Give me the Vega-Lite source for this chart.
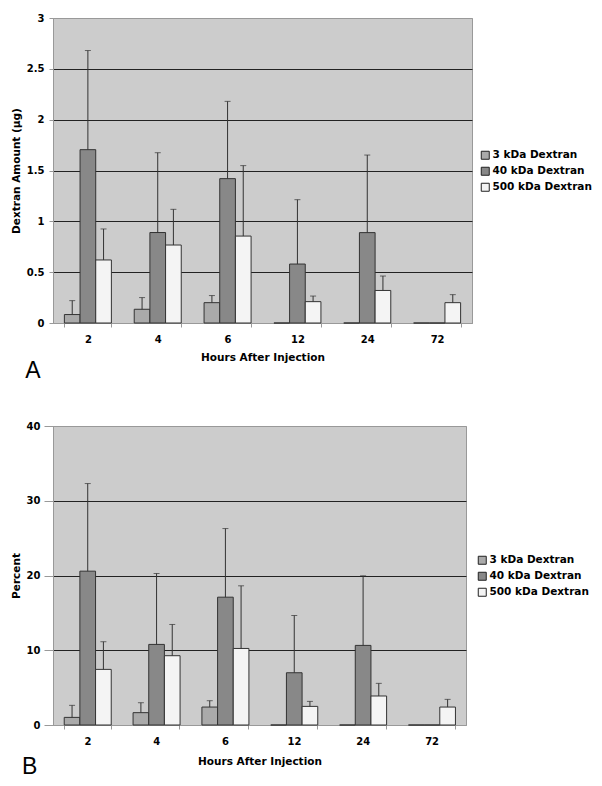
{
  "$schema": "https://vega.github.io/schema/vega-lite/v6.json",
  "background": "white",
  "padding": {"left": 10, "top": 12, "right": 0, "bottom": 0},
  "spacing": 37,
  "resolve": {"legend": {"fill": "independent"}},
  "datasets": {
    "amount": [
      {"hours": "2", "series": "3 kDa Dextran", "value": 0.083, "upper": 0.22},
      {"hours": "2", "series": "40 kDa Dextran", "value": 1.705, "upper": 2.68},
      {"hours": "2", "series": "500 kDa Dextran", "value": 0.62, "upper": 0.925},
      {"hours": "4", "series": "3 kDa Dextran", "value": 0.135, "upper": 0.25},
      {"hours": "4", "series": "40 kDa Dextran", "value": 0.89, "upper": 1.675},
      {"hours": "4", "series": "500 kDa Dextran", "value": 0.767, "upper": 1.118},
      {"hours": "6", "series": "3 kDa Dextran", "value": 0.2, "upper": 0.27},
      {"hours": "6", "series": "40 kDa Dextran", "value": 1.42, "upper": 2.18},
      {"hours": "6", "series": "500 kDa Dextran", "value": 0.855, "upper": 1.548},
      {"hours": "12", "series": "3 kDa Dextran", "value": 0, "upper": null},
      {"hours": "12", "series": "40 kDa Dextran", "value": 0.58, "upper": 1.213},
      {"hours": "12", "series": "500 kDa Dextran", "value": 0.21, "upper": 0.265},
      {"hours": "24", "series": "3 kDa Dextran", "value": 0, "upper": null},
      {"hours": "24", "series": "40 kDa Dextran", "value": 0.889, "upper": 1.652},
      {"hours": "24", "series": "500 kDa Dextran", "value": 0.32, "upper": 0.462},
      {"hours": "72", "series": "3 kDa Dextran", "value": 0, "upper": null},
      {"hours": "72", "series": "40 kDa Dextran", "value": 0, "upper": null},
      {"hours": "72", "series": "500 kDa Dextran", "value": 0.2, "upper": 0.279}
    ],
    "percent": [
      {"hours": "2", "series": "3 kDa Dextran", "value": 1.02, "upper": 2.63},
      {"hours": "2", "series": "40 kDa Dextran", "value": 20.58, "upper": 32.3},
      {"hours": "2", "series": "500 kDa Dextran", "value": 7.44, "upper": 11.14},
      {"hours": "4", "series": "3 kDa Dextran", "value": 1.65, "upper": 2.98},
      {"hours": "4", "series": "40 kDa Dextran", "value": 10.78, "upper": 20.27},
      {"hours": "4", "series": "500 kDa Dextran", "value": 9.27, "upper": 13.45},
      {"hours": "6", "series": "3 kDa Dextran", "value": 2.4, "upper": 3.25},
      {"hours": "6", "series": "40 kDa Dextran", "value": 17.1, "upper": 26.28},
      {"hours": "6", "series": "500 kDa Dextran", "value": 10.24, "upper": 18.62},
      {"hours": "12", "series": "3 kDa Dextran", "value": 0, "upper": null},
      {"hours": "12", "series": "40 kDa Dextran", "value": 6.99, "upper": 14.65},
      {"hours": "12", "series": "500 kDa Dextran", "value": 2.49, "upper": 3.16},
      {"hours": "24", "series": "3 kDa Dextran", "value": 0, "upper": null},
      {"hours": "24", "series": "40 kDa Dextran", "value": 10.65, "upper": 19.96},
      {"hours": "24", "series": "500 kDa Dextran", "value": 3.88, "upper": 5.57},
      {"hours": "72", "series": "3 kDa Dextran", "value": 0, "upper": null},
      {"hours": "72", "series": "40 kDa Dextran", "value": 0, "upper": null},
      {"hours": "72", "series": "500 kDa Dextran", "value": 2.4, "upper": 3.43}
    ]
  },
  "vconcat": [
    {
      "title": {"text": "A", "orient": "bottom", "anchor": "start", "frame": "bounds", "font": "Liberation Sans", "fontSize": 23, "fontWeight": "normal", "color": "#000000", "offset": -3, "dx": 14},
      "width": 419,
      "height": 305,
      "data": {"name": "amount"},
      "encoding": {
        "x": {"field": "hours", "type": "ordinal", "sort": ["2", "4", "6", "12", "24", "72"], "scale": {"paddingInner": 0.327, "paddingOuter": 0.163}, "title": "Hours After Injection"},
        "xOffset": {"field": "series", "type": "nominal", "sort": ["3 kDa Dextran", "40 kDa Dextran", "500 kDa Dextran"], "scale": {"paddingInner": 0, "paddingOuter": 0}}
      },
      "layer": [
        {
          "mark": {"type": "bar", "stroke": "#333333", "strokeWidth": 1},
          "encoding": {
            "y": {"field": "value", "type": "quantitative", "scale": {"domain": [0, 3], "nice": false}, "title": "Dextran Amount (µg)",
              "axis": {"values": [0, 0.5, 1, 1.5, 2, 2.5, 3], "format": "~g", "gridColor": {"condition": {"test": "datum.value === 0 || datum.value === 3", "value": "#999999"}, "value": "#222222"}}},
            "fill": {"field": "series", "type": "nominal", "sort": ["3 kDa Dextran", "40 kDa Dextran", "500 kDa Dextran"],
              "scale": {"domain": ["3 kDa Dextran", "40 kDa Dextran", "500 kDa Dextran"], "range": ["#aaaaaa", "#888888", "#f4f4f4"]},
              "legend": {"orient": "none", "legendX": 427, "legendY": 132, "title": null, "symbolType": "square", "symbolSize": 64, "symbolStrokeColor": "#222222", "symbolStrokeWidth": 1, "labelFont": "DejaVu Sans", "labelFontWeight": "bold", "labelFontSize": 10.5, "labelColor": "#000000", "rowPadding": 3, "labelOffset": 2, "padding": 0}}
          }
        },
        {
          "transform": [{"filter": "datum.upper != null"}],
          "mark": {"type": "rule", "color": "#333333", "strokeWidth": 1},
          "encoding": {"y": {"field": "value", "type": "quantitative", "title": "Dextran Amount (µg)"}, "y2": {"field": "upper"}}
        },
        {
          "transform": [{"filter": "datum.upper != null"}],
          "mark": {"type": "tick", "color": "#333333", "size": 6, "thickness": 1},
          "encoding": {"y": {"field": "upper", "type": "quantitative", "title": "Dextran Amount (µg)"}}
        }
      ]
    },
    {
      "title": {"text": "B", "orient": "bottom", "anchor": "start", "frame": "bounds", "font": "Liberation Sans", "fontSize": 23, "fontWeight": "normal", "color": "#000000", "offset": -11, "dx": 11},
      "width": 413,
      "height": 299,
      "data": {"name": "percent"},
      "encoding": {
        "x": {"field": "hours", "type": "ordinal", "sort": ["2", "4", "6", "12", "24", "72"], "scale": {"paddingInner": 0.327, "paddingOuter": 0.163}, "title": "Hours After Injection", "axis": {"titlePadding": 10}},
        "xOffset": {"field": "series", "type": "nominal", "sort": ["3 kDa Dextran", "40 kDa Dextran", "500 kDa Dextran"], "scale": {"paddingInner": 0, "paddingOuter": 0}}
      },
      "layer": [
        {
          "mark": {"type": "bar", "stroke": "#333333", "strokeWidth": 1},
          "encoding": {
            "y": {"field": "value", "type": "quantitative", "scale": {"domain": [0, 40], "nice": false}, "title": "Percent",
              "axis": {"values": [0, 10, 20, 30, 40], "format": "~g", "tickSize": 9, "labelPadding": 4, "gridColor": {"condition": {"test": "datum.value === 0 || datum.value === 40", "value": "#999999"}, "value": "#222222"}}},
            "fill": {"field": "series", "type": "nominal", "sort": ["3 kDa Dextran", "40 kDa Dextran", "500 kDa Dextran"],
              "scale": {"domain": ["3 kDa Dextran", "40 kDa Dextran", "500 kDa Dextran"], "range": ["#aaaaaa", "#888888", "#f4f4f4"]},
              "legend": {"orient": "none", "legendX": 424, "legendY": 129, "title": null, "symbolType": "square", "symbolSize": 64, "symbolStrokeColor": "#222222", "symbolStrokeWidth": 1, "labelFont": "DejaVu Sans", "labelFontWeight": "bold", "labelFontSize": 10.5, "labelColor": "#000000", "rowPadding": 3, "labelOffset": 2, "padding": 0}}
          }
        },
        {
          "transform": [{"filter": "datum.upper != null"}],
          "mark": {"type": "rule", "color": "#333333", "strokeWidth": 1},
          "encoding": {"y": {"field": "value", "type": "quantitative", "title": "Percent"}, "y2": {"field": "upper"}}
        },
        {
          "transform": [{"filter": "datum.upper != null"}],
          "mark": {"type": "tick", "color": "#333333", "size": 6, "thickness": 1},
          "encoding": {"y": {"field": "upper", "type": "quantitative", "title": "Percent"}}
        }
      ]
    }
  ],
  "config": {
    "font": "DejaVu Sans",
    "view": {"fill": "#cccccc", "stroke": "#999999"},
    "axis": {"labelFont": "DejaVu Sans", "labelFontWeight": "bold", "labelFontSize": 10, "labelColor": "#000000", "titleFont": "DejaVu Sans", "titleFontWeight": "bold", "titleFontSize": 10.5, "titleColor": "#000000", "domainColor": "#999999", "tickColor": "#999999", "tickSize": 4},
    "axisX": {"labelAngle": 0, "labelPadding": 7, "titlePadding": 8, "grid": false, "tickBand": "extent"},
    "axisY": {"labelPadding": 5, "titlePadding": 5, "grid": true, "gridOpacity": 1, "gridWidth": 1}
  }
}
